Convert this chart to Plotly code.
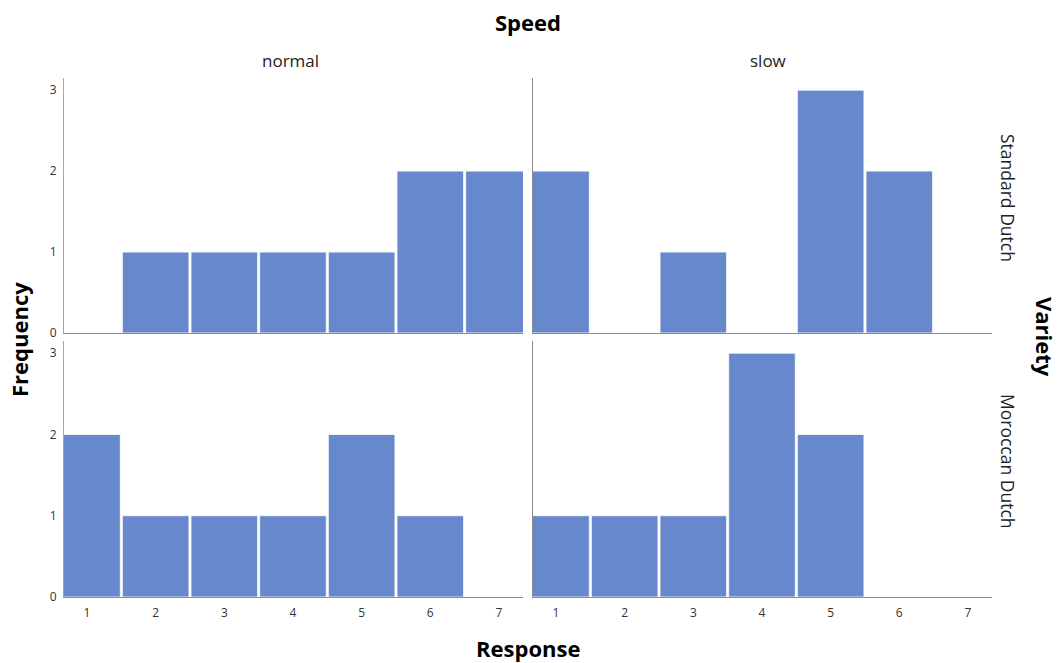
import plotly.graph_objects as go
from plotly.subplots import make_subplots

responses = [1, 2, 3, 4, 5, 6, 7]
speeds = ["normal", "slow"]
varieties = ["Standard Dutch", "Moroccan Dutch"]

std_normal = [0, 1, 1, 1, 1, 2, 2]
std_slow = [2, 0, 1, 0, 3, 2, 0]
mor_normal = [2, 1, 1, 1, 2, 1, 0]
mor_slow = [1, 1, 1, 3, 2, 0, 0]

panels = {(1, 1): std_normal, (1, 2): std_slow, (2, 1): mor_normal, (2, 2): mor_slow}

BAR = "#6788cc"
FONT = "Open Sans"

fig = make_subplots(rows=2, cols=2, horizontal_spacing=0.01, vertical_spacing=0.015)
for (r, c), vals in panels.items():
    fig.add_trace(go.Bar(x=responses, y=vals, marker=dict(color=BAR, line=dict(color="rgba(255,255,255,0.8)", width=1)),
                         showlegend=False, hoverinfo="x+y"), row=r, col=c)

xdom = {1: [0, 0.4946], 2: [0.5054, 1]}
ydom = {1: [0.5087, 1], 2: [0, 0.4933]}
for r in (1, 2):
    for c in (1, 2):
        fig.update_xaxes(domain=xdom[c], range=[0.665, 7.35], tickvals=responses, showticklabels=(r == 2),
                         showgrid=False, zeroline=False, showline=True, linecolor="#8c8c8c", linewidth=1,
                         ticks="", ticklabelstandoff=5,
                         tickfont=dict(size=12, color="#333", family=FONT), row=r, col=c)
        fig.update_yaxes(domain=ydom[r], range=[0, 3.15], tickvals=[0, 1, 2, 3], showticklabels=(c == 1),
                         showgrid=False, zeroline=False, showline=True,
                         linecolor="#a6a6a6" if c == 1 else "#8c8c8c", linewidth=1,
                         ticks="", ticklabelstandoff=4,
                         tickfont=dict(size=12, color="#333", family=FONT), row=r, col=c)

annotations = [
    dict(text="<b>Speed</b>", xref="paper", yref="paper", x=(528 - 64) / 928, y=1 + (78 - 22) / 519,
         showarrow=False, font=dict(size=22, family=FONT, color="#000"), xanchor="center", yanchor="middle"),
    dict(text="<b>Response</b>", xref="paper", yref="paper", x=(528 - 64) / 928, y=-(648 - 597) / 519,
         showarrow=False, font=dict(size=22, family=FONT, color="#000"), xanchor="center", yanchor="middle"),
    dict(text="<b>Frequency</b>", xref="paper", yref="paper", x=-(64 - 19) / 928, y=(597 - 340) / 519,
         showarrow=False, textangle=-90, font=dict(size=22, family=FONT, color="#000"), xanchor="center", yanchor="middle"),
    dict(text="<b>Variety</b>", xref="paper", yref="paper", x=1 + (1045 - 992) / 928, y=(597 - 337) / 519,
         showarrow=False, textangle=90, font=dict(size=22, family=FONT, color="#000"), xanchor="center", yanchor="middle"),
]
for i, s in enumerate(speeds):
    cx = [(290 - 64) / 928, (768 - 64) / 928][i]
    annotations.append(dict(text=s, xref="paper", yref="paper", x=cx, y=1 + (78 - 61) / 519, showarrow=False,
                            font=dict(size=17, family=FONT, color="#222"), xanchor="center", yanchor="middle"))
for i, v in enumerate(varieties):
    cy = [(597 - 198) / 519, (597 - 462) / 519][i]
    annotations.append(dict(text=v, xref="paper", yref="paper", x=1 + (1008 - 992) / 928, y=cy, showarrow=False,
                            textangle=90, font=dict(size=17.5, family=FONT, color="#222"), xanchor="center", yanchor="middle"))

fig.update_layout(width=1060, height=663, margin=dict(l=64, r=68, t=78, b=66), bargap=0.03,
                  plot_bgcolor="white", paper_bgcolor="white", annotations=annotations,
                  font=dict(family=FONT))
fig.write_html("out.html", config={"displayModeBar": False},
               post_script="document.body.style.margin='0';")
